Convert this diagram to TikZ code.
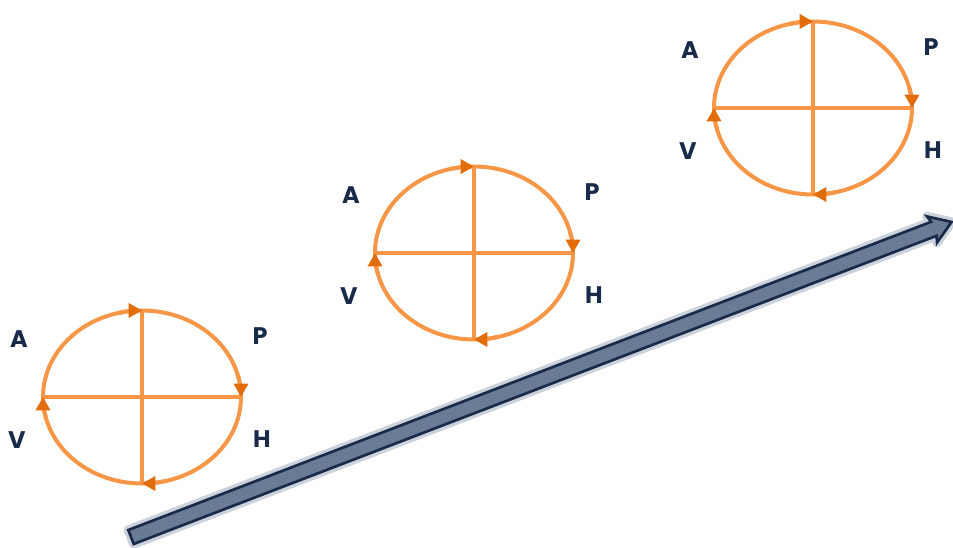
\documentclass[tikz,border=0pt]{standalone}
\usepackage{fontspec}
\setmainfont{Poppins}
\usetikzlibrary{arrows.meta,shapes.geometric}
\definecolor{orline}{HTML}{F79646}
\definecolor{ortip}{HTML}{E36C0A}
\definecolor{navy}{HTML}{1A2B4A}
\definecolor{slate}{HTML}{6A7B95}

\begin{document}
\begin{tikzpicture}[x=0.75pt,y=0.75pt,
  orb/.style={ellipse,inner sep=0pt,outer sep=0pt,minimum width=148.5pt,minimum height=129.75pt},
  ln/.style={orline,line width=3pt},
  tick/.style={ln,-{Triangle[length=10pt,width=10.5pt,color=ortip]}},
  lbl/.style={font=\fontsize{18}{20}\selectfont\bfseries,text=navy,inner sep=1pt}]
  \useasboundingbox (0,0) rectangle (953,547);
  % big arrow
  \coordinate (tail) at (131,10);
  \begin{scope}[shift={(tail)},rotate=21]
    \draw[slate!75,line width=7pt,opacity=.45,line join=round]
      (0,-7.5)--(860,-7.5)--(858,-14)--(879,0)--(858,14)--(860,7.5)--(0,7.5)--cycle;
    \filldraw[fill=slate,draw=navy,line width=2pt,line join=miter]
      (0,-7.5)--(860,-7.5)--(858,-14)--(879,0)--(858,14)--(860,7.5)--(0,7.5)--cycle;
  \end{scope}
  % cycles
  \foreach \i/\x/\y in {1/142/150,2/474/294,3/813/439}{
    \node[orb] (e\i) at (\x,\y) {};
    \draw[ln] (e\i) ellipse[x radius=74.25pt,y radius=64.875pt];
    \draw[ln] (e\i.west)--(e\i.east) (e\i.north)--(e\i.south);
    \foreach \a in {180,90,0,-90}
      \draw[tick] (e\i.\a) ++(\a+14:74.25pt and 64.875pt) ++(\a+180:74.25pt and 64.875pt)
        arc[start angle=\a+14,delta angle=-14,x radius=74.25pt,y radius=64.875pt];
    \node[lbl] (a\i) at ([shift={(-123,58)}]e\i.center) {A};
    \node[lbl] (p\i) at ([shift={(118,61)}]e\i.center) {P};
    \node[lbl] (v\i) at ([shift={(-125,-43)}]e\i.center) {V};
    \node[lbl] (h\i) at ([shift={(120,-42)}]e\i.center) {H};
  }
\end{tikzpicture}
\end{document}
